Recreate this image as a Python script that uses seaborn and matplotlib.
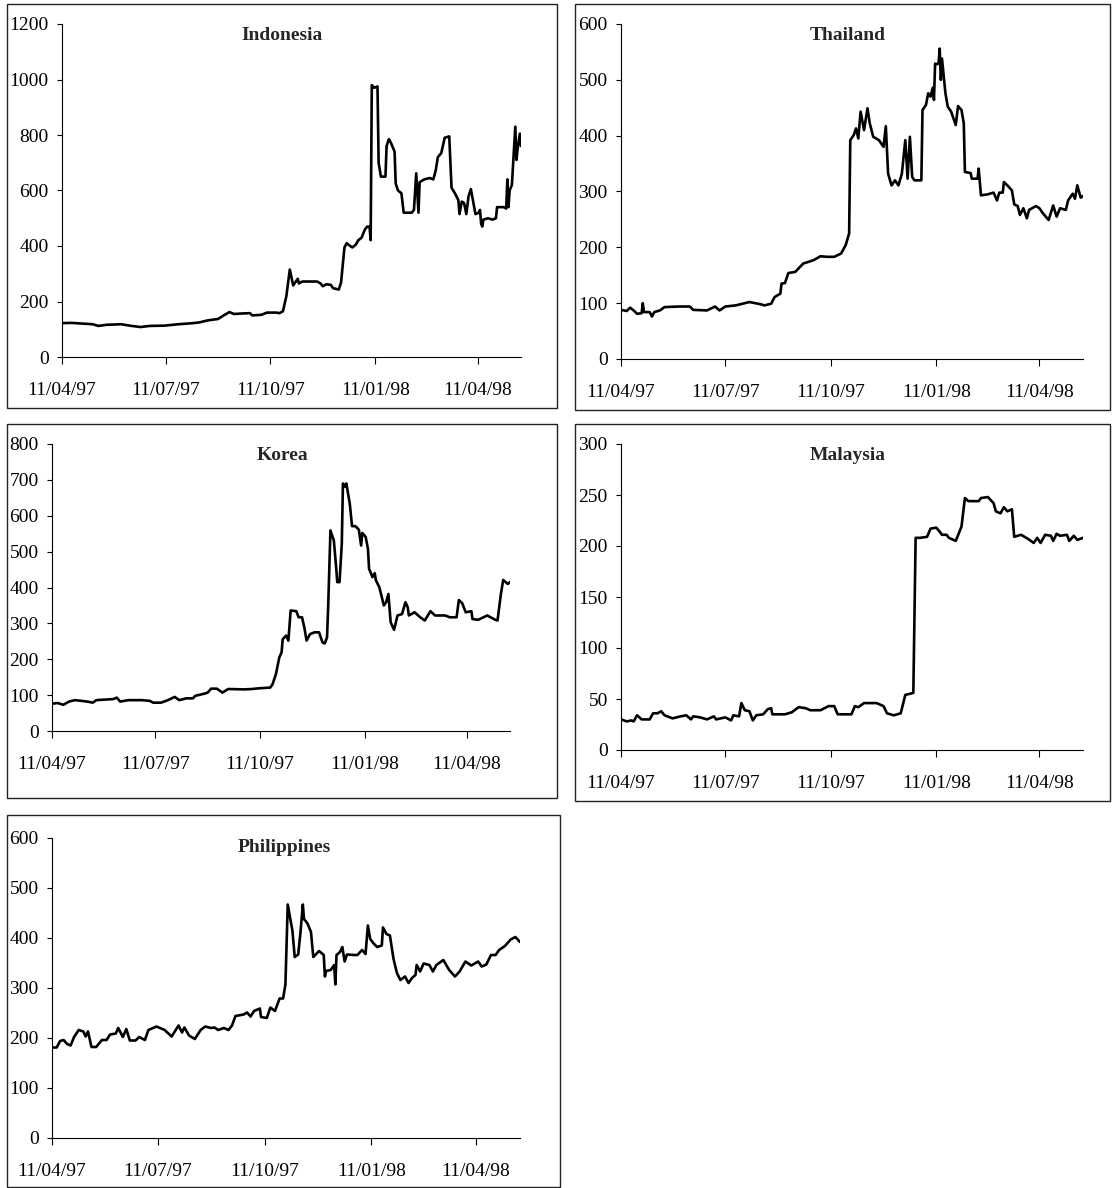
import numpy as np
import pandas as pd
import matplotlib
matplotlib.use('Agg')
import matplotlib.pyplot as plt
import matplotlib.dates as mdates
from matplotlib.patches import Rectangle
import seaborn as sns

# days counted from 11/04/97
indonesia_day = [0, 8, 27, 32, 39, 52, 61, 69, 77, 90, 102, 115, 121, 128, 137, 142, 147, 151, 159, 165,
                 167, 175, 180, 188, 191, 194, 197, 200, 203, 207, 208, 211, 224, 227, 229, 232, 236, 238,
                 243, 245, 248, 250, 253, 255, 258, 260, 263, 266, 268, 270, 271, 272, 274, 277, 278, 280,
                 284, 285, 287, 289, 292, 293, 295, 298, 300, 307, 309, 311, 313, 314, 318, 323, 326, 328,
                 330, 333, 336, 340, 342, 345, 348, 349, 351, 353, 355, 357, 359, 361, 363, 366, 367, 368,
                 369, 370, 374, 378, 381, 382, 388, 390, 391, 392, 393, 395, 398, 399, 400, 402, 403]
indonesia_val = [122, 123, 118, 112, 116, 118, 112, 108, 112, 113, 118, 122, 125, 132, 137, 150, 162, 155, 157, 158,
                 150, 152, 160, 160, 158, 165, 220, 315, 258, 282, 265, 272, 272, 265, 255, 262, 260, 248,
                 243, 268, 395, 410, 400, 395, 405, 420, 430, 460, 470, 470, 421, 980, 970, 975, 700, 650,
                 650, 760, 785, 770, 740, 625, 600, 590, 520, 520, 530, 662, 520, 630, 640, 645, 640, 670,
                 720, 735, 790, 795, 610, 590, 565, 515, 560, 555, 515, 580, 605, 560, 515, 520, 530, 480,
                 470, 495, 500, 495, 500, 540, 540, 535, 640, 540, 600, 620, 830, 710, 750, 805, 760]

thailand_day = [0, 5, 8, 11, 14, 18, 19, 20, 25, 27, 29, 34, 38, 51, 60, 63, 75, 82, 86, 91, 100, 112, 122,
                125, 131, 134, 139, 140, 143, 146, 152, 159, 168, 174, 180, 186, 192, 196, 199, 200, 203,
                205, 207, 209, 212, 215, 217, 220, 225, 229, 231, 233, 236, 239, 242, 245, 248, 250, 252,
                254, 256, 262, 263, 266, 268, 270, 272, 273, 274, 276, 277, 278, 279, 280, 283, 285, 288,
                292, 294, 297, 299, 300, 305, 306, 311, 312, 314, 320, 325, 328, 330, 333, 334, 337, 341,
                343, 346, 348, 351, 354, 356, 362, 365, 368, 373, 377, 380, 383, 388, 390, 394, 396, 398,
                401, 403]
thailand_val = [88, 86, 92, 87, 81, 82, 100, 84, 84, 76, 84, 87, 93, 94, 94, 88, 87, 94, 87, 94, 96, 102, 98,
                96, 99, 111, 117, 135, 136, 154, 156, 171, 177, 184, 183, 183, 189, 204, 225, 392, 401,
                413, 395, 443, 410, 449, 422, 398, 392, 380, 417, 332, 311, 320, 311, 332, 392, 323, 398,
                326, 320, 320, 446, 455, 476, 470, 486, 464, 529, 528, 530, 556, 500, 538, 476, 452, 443,
                419, 453, 446, 422, 335, 333, 323, 323, 341, 293, 295, 298, 284, 298, 298, 317, 311, 302,
                277, 274, 258, 270, 252, 267, 274, 270, 261, 249, 275, 255, 270, 267, 284, 296, 287, 311,
                289, 292]

korea_day = [0, 5, 10, 15, 20, 26, 31, 36, 39, 54, 57, 60, 67, 79, 86, 89, 96, 102, 108, 112, 118, 124, 126,
             134, 137, 140, 145, 150, 155, 169, 176, 182, 192, 194, 197, 200, 202, 203, 206, 208, 210, 215,
             217, 220, 222, 224, 227, 231, 235, 238, 240, 242, 243, 245, 248, 250, 251, 253, 255, 256, 258,
             259, 262, 264, 267, 270, 272, 273, 276, 278, 279, 282, 284, 285, 288, 292, 294, 296, 298, 301,
             304, 308, 311, 313, 314, 319, 324, 328, 333, 337, 346, 350, 356, 358, 361, 364, 369, 370, 375,
             383, 390, 392, 395, 397, 401, 403]
korea_val = [76, 78, 73, 82, 86, 84, 82, 79, 86, 89, 93, 82, 86, 86, 84, 79, 79, 86, 95, 86, 91, 91, 98,
             104, 107, 118, 118, 107, 117, 116, 117, 119, 121, 130, 158, 205, 219, 256, 266, 252, 336, 334,
             317, 317, 289, 252, 270, 275, 275, 247, 244, 261, 345, 559, 531, 457, 415, 415, 522, 690, 681,
             690, 634, 571, 571, 561, 517, 552, 541, 508, 452, 429, 440, 420, 401, 350, 359, 382, 303, 282,
             322, 326, 359, 345, 322, 331, 317, 308, 334, 322, 322, 317, 317, 365, 356, 331, 334, 312, 310,
             322, 310, 308, 382, 421, 410, 415]

malaysia_day = [0, 5, 9, 11, 14, 18, 25, 28, 32, 35, 38, 45, 52, 57, 61, 63, 69, 75, 81, 83, 91, 96, 98, 103,
                105, 108, 112, 115, 118, 124, 128, 131, 132, 143, 149, 155, 161, 165, 174, 181, 186, 189,
                201, 204, 207, 212, 223, 229, 232, 238, 244, 248, 255, 257, 261, 267, 270, 275, 278, 280,
                284, 286, 292, 297, 300, 303, 309, 312, 314, 320, 325, 327, 331, 334, 337, 341, 343, 349,
                355, 360, 363, 366, 370, 375, 377, 380, 383, 389, 391, 395, 398, 403]
malaysia_val = [30, 28, 29, 28, 34, 30, 30, 36, 36, 38, 34, 31, 33, 34, 30, 33, 32, 30, 33, 30, 32, 29, 34, 33,
                46, 39, 38, 29, 34, 35, 40, 41, 35, 35, 37, 42, 41, 39, 39, 43, 43, 35,
                35, 43, 42, 46, 46, 43, 36, 34, 36, 54, 56, 208, 208, 209, 217, 218, 214, 211,
                211, 208, 205, 219, 247, 244, 244, 244, 247, 248, 242, 234, 232, 238, 234, 236, 209, 211,
                207, 203, 208, 203, 211, 210, 205, 212, 210, 211, 205, 210, 206, 208]

philippines_day = [0, 4, 7, 10, 13, 16, 19, 23, 27, 29, 31, 34, 38, 43, 47, 50, 55, 57, 61, 64, 67, 72, 75, 80,
                   83, 90, 97, 103, 109, 112, 114, 118, 123, 128, 132, 137, 140, 143, 148, 152, 155, 158, 165,
                   168, 171, 174, 179, 180, 185, 188, 192, 196, 199, 201, 203, 207, 209, 212, 214, 216, 217,
                   220, 223, 225, 230, 234, 235, 236, 240, 243, 244, 245, 248, 250, 252, 254, 260, 263, 267,
                   270, 272, 274, 277, 280, 284, 285, 288, 291, 294, 297, 300, 304, 307, 310, 313, 314, 317,
                   320, 325, 328, 331, 337, 342, 347, 351, 356, 361, 367, 370, 374, 378, 382, 385, 390, 395,
                   399, 403]
philippines_val = [181, 181, 194, 196, 188, 185, 202, 216, 213, 203, 213, 182, 182, 196, 196, 207, 209, 220, 202,
                   218, 195, 195, 202, 196, 216, 223, 216, 203, 225, 211, 221, 205, 198, 216, 223, 220, 221, 216,
                   220, 216, 225, 244, 247, 251, 243, 254, 259, 242, 240, 261, 254, 279, 279, 307, 467, 415, 362,
                   367, 412, 467, 438, 429, 412, 362, 374, 366, 323, 334, 336, 346, 307, 366, 372, 382, 353, 367,
                   366, 366, 376, 368, 425, 398, 389, 382, 385, 421, 408, 405, 359, 330, 316, 323, 310, 320, 326,
                   346, 333, 349, 346, 333, 346, 356, 336, 323, 333, 353, 345, 353, 343, 347, 366, 366, 376, 384,
                   397, 402, 392]

names = ['Indonesia', 'Thailand', 'Korea', 'Malaysia', 'Philippines']
days_list = [indonesia_day, thailand_day, korea_day, malaysia_day, philippines_day]
vals_list = [indonesia_val, thailand_val, korea_val, malaysia_val, philippines_val]
y_max = [1200, 600, 800, 300, 600]
y_step = [200, 100, 100, 50, 100]
tick_dates = ['1997-04-11', '1997-07-11', '1997-10-11', '1998-01-11', '1998-04-11']

start = pd.Timestamp('1997-04-11')
end = pd.Timestamp('1998-05-19')

W, H = 1112, 1188
# axes boxes in pixels: left, right, top, bottom
axes_px = [(62, 521, 24, 357), (621, 1083, 24, 359), (52, 510, 444, 731),
           (621, 1083, 444, 750), (52, 520, 838, 1138)]
# outer frames in pixels: x0, y0, x1, y1
frames_px = [(7, 4, 557, 408), (575, 4, 1110, 410), (7, 424, 557, 798),
             (575, 424, 1110, 801), (7, 815, 560, 1187)]
# title centres in pixels
titles_px = [(282, 35), (848, 35), (282, 456), (848, 456), (284, 847)]

sns.set_style('ticks')
plt.rcParams['font.family'] = ['Liberation Serif', 'DejaVu Serif']

fig = plt.figure(figsize=(W / 100, H / 100), dpi=100)

for i in range(5):
    l, r, t, b = axes_px[i]
    ax = fig.add_axes([l / W, 1 - b / H, (r - l) / W, (b - t) / H])
    df = pd.DataFrame({'date': start + pd.to_timedelta(days_list[i], unit='D'), 'value': vals_list[i]})
    sns.lineplot(data=df, x='date', y='value', ax=ax, color='black', linewidth=1.9)
    ax.set_xlim(start, end)
    ax.set_ylim(0, y_max[i])
    ax.set_yticks(np.arange(0, y_max[i] + 1, y_step[i]))
    ax.set_xticks(pd.to_datetime(tick_dates))
    ax.xaxis.set_major_formatter(mdates.DateFormatter('%d/%m/%y'))
    ax.set_xlabel('')
    ax.set_ylabel('')
    ax.spines['top'].set_visible(False)
    ax.spines['right'].set_visible(False)
    for s in ['left', 'bottom']:
        ax.spines[s].set_linewidth(0.8)
        ax.spines[s].set_color('black')
    ax.tick_params(direction='out', width=0.8, labelsize=14, colors='black')
    ax.tick_params(axis='y', length=3.5, pad=6)
    ax.tick_params(axis='x', length=5, pad=13)

    tx, ty = titles_px[i]
    fig.text(tx / W, 1 - ty / H, names[i], ha='center', va='center', fontweight='bold', fontsize=14)

    x0, y0, x1, y1 = frames_px[i]
    fig.patches.append(Rectangle((x0 / W, 1 - y1 / H), (x1 - x0) / W, (y1 - y0) / H,
                                 transform=fig.transFigure, fill=False, edgecolor='#222222', linewidth=1))

fig.savefig('out.png', dpi=100)
